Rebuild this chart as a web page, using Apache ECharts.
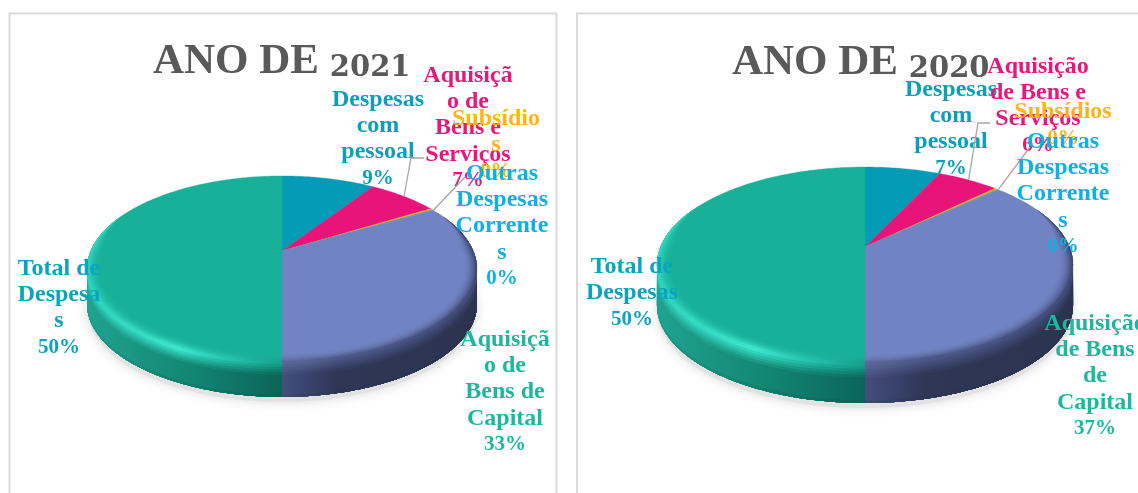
<!DOCTYPE html>
<html><head><meta charset="utf-8">
<style>html,body{margin:0;padding:0;background:#fff}#c{width:1138px;height:493px}</style>
<script src="https://cdn.jsdelivr.net/npm/echarts@6/dist/echarts.min.js"></script>
</head><body><div id="c"></div>
<script>
// ---- data ----
const years = ['2021', '2020'];
const categories = ['Despesas com pessoal', 'Aquisição de Bens e Serviços', 'Subsídios', 'Outras Despesas Correntes', 'Aquisição de Bens de Capital', 'Total de Despesas'];
const values2021 = [9.3, 7.0, 0.3, 0.1, 33.3, 50];
const values2020 = [7.0, 5.7, 0.3, 0.1, 36.9, 50];
const wrapped2021 = ['Despesas\ncom\npessoal', 'Aquisiçã\no de\nBens e\nServiços', 'Subsídio\ns', 'Outras\nDespesas\nCorrente\ns', 'Aquisiçã\no de\nBens de\nCapital', 'Total de\nDespesa\ns'];
const wrapped2020 = ['Despesas\ncom\npessoal', 'Aquisição\nde Bens e\nServiços', 'Subsídios', 'Outras\nDespesas\nCorrente\ns', 'Aquisição\nde Bens\nde\nCapital', 'Total de\nDespesas'];

// ---- style & layout ----
const faceColors = ['#049bb6', '#e8147a', '#f6a81e', '#10a5d8', '#7183c2', '#19b09a'];
const labelColors = ['#0b9fba', '#e8177b', '#fdb515', '#0fb0e2', '#1db79e', '#0ba4c0'];
const FONT = '"Liberation Serif", serif';
const geo = [
  {cx: 282, cy: 251, R: 191.3, S: 89.5, k: -0.193, depth: 35, titleX: 153, titleY: 33,
   labels: [[378, 139], [468, 128], [496, 145], [502, 226], [505, 392], [59, 308]],
   leaders: [[1, [[411, 158], [424, 158]]], [3, [[465, 177]]]]},
  {cx: 865, cy: 247, R: 204.5, S: 94.7, k: -0.184, depth: 40, titleX: 732, titleY: 34,
   labels: [[951, 129], [1038, 106], [1063, 125], [1063, 194], [1095, 376], [632, 293]],
   leaders: [[1, [[978, 123], [990, 123]]], [3, [[1030, 147]]]]}
];
const TAU = Math.PI * 2;

function pt(g, frac, dz, scale) {
  const a = frac * TAU, s = scale === undefined ? 1 : scale;
  const x = Math.sin(a) * s, y = -Math.cos(a) * s, d = 1 + g.k * y;
  return [g.cx + g.R * x / d, g.cy + g.S * y / d + dz];
}
function arc(g, f0, f1, dz, scaleFn) {
  const n = Math.max(2, Math.ceil((f1 - f0) * 300)), out = [];
  for (let i = 0; i <= n; i++) {
    const f = f0 + (f1 - f0) * i / n;
    out.push(pt(g, f, dz, scaleFn ? scaleFn(f) : 1));
  }
  return out;
}
function mix(a, b, t) {
  const p = c => [1, 3, 5].map(i => parseInt(c.substr(i, 2), 16));
  const A = p(a), B = p(b);
  return '#' + A.map((v, i) => Math.round(v + (B[i] - v) * t).toString(16).padStart(2, '0')).join('');
}
function rows(values) {
  let acc = 0;
  return values.map((v, i) => { const r = [acc / 100, (acc + v) / 100, i, v]; acc += v; return r; });
}
// side-wall ramp: [x position 0..1 across the half, base colour, rim colour]
const ramps = {
  5: [[0, '#1fa391', '#2fd6bd'], [.25, '#1a9583', '#34dcc4'], [.47, '#148a76', '#3de6cd'], [.72, '#10786a', '#26c4ad'], [1, '#0b6557', '#16a08c']],
  4: [[0, '#454f7c', '#5a6799'], [.1, '#3b4570', '#55618f'], [.28, '#2f3757', '#4a5684'], [.7, '#2d3553', '#434e7c'], [1, '#2c334e', '#3d4770']]
};
function sideElements(g, f0, f1, idx) {
  const ramp = ramps[idx];
  if (!ramp) return [];
  const left = idx === 5, x0 = left ? g.cx - g.R * 1.02 : g.cx, x1 = left ? g.cx : g.cx + g.R * 1.02;
  const extreme = Math.acos(g.k) / TAU;                  // where the outline is widest
  const wf = left ? .5 : Math.max(f0, extreme), we = left ? Math.min(f1, 1 - extreme) : .5;
  const bf = left ? .5 : Math.max(f0, extreme - .1), be = left ? Math.min(f1, 1 - extreme + .1) : .5;
  const face = faceColors[idx], els = [];
  const grad = fn => ({type: 'linear', x: x0, y: 0, x2: x1, y2: 0, global: true,
    colorStops: ramp.map(s => ({offset: s[0], color: fn(s[1], s[2])}))});
  const edge = arc(g, bf, be, 0).reverse();
  const IN = 9, OUT = 14;
  for (let i = 1; i <= IN; i++) {           // soft bevel just inside the top face, tapering at its ends
    const p = (i - 1) / IN, w = Math.pow(i / IN, 2);
    const taper = f => Math.min(1, Math.min(left ? 1 : (f - bf) / .06, left ? (be - f) / .06 : 1));
    const scale = f => 1 - .065 * (1 - p) * Math.max(0, taper(f));
    els.push({type: 'polygon', shape: {points: arc(g, bf, be, 0, scale).concat(edge)},
      style: {fill: grad((b, r) => mix(face, r, w))}});
  }
  const floor = arc(g, wf, we, g.depth).reverse();
  for (let i = 0; i < OUT; i++) {           // the wall, painted from the top down
    const t = i / OUT, fade = Math.min(1, t / .34), dark = t > .9 ? (t - .9) / .1 * .35 : 0;
    els.push({type: 'polygon', shape: {points: arc(g, wf, we, g.depth * t).concat(floor)},
      style: {fill: grad((b, r) => mix(mix(r, b, fade), '#03302a', dark))}});
  }
  return els;
}

function sideRender(g) {
  return function (params, api) {
    return {type: 'group', children: sideElements(g, api.value(0), api.value(1), api.value(2))};
  };
}
function faceRender(g) {
  return function (params, api) {
    const f0 = api.value(0), f1 = api.value(1), idx = api.value(2);
    const children = [];
    if (params.dataIndex === 0) {
      children.push({type: 'polygon', shape: {points: arc(g, 0, 1, g.depth + 5)},
        style: {fill: '#e2e2e2', shadowBlur: 12, shadowColor: '#dcdcdc'}});
    }
    const c = faceColors[idx];
    children.push({type: 'polygon', shape: {points: [[g.cx, g.cy]].concat(arc(g, f0, f1, 0))},
      style: {fill: c, stroke: c, lineWidth: .4}});
    return {type: 'group', children};
  };
}
function labelRender(g, wrapped) {
  return function (params, api) {
    const f0 = api.value(0), f1 = api.value(1), idx = api.value(2), v = api.value(3);
    const children = [];
    g.leaders.forEach(l => {
      if (l[0] !== idx) return;
      const start = pt(g, (f0 + f1) / 2, 0, 1.005);
      children.push({type: 'polyline', shape: {points: [start].concat(l[1])},
        style: {stroke: '#a6a6a6', lineWidth: 1.3, fill: null}});
    });
    const tok = (size) => ({fontFamily: FONT, fontWeight: 'bold', fontSize: size, fill: labelColors[idx], lineHeight: 26.3});
    children.push({type: 'text', style: {
      text: '{n|' + wrapped[idx] + '}\n{p|' + Math.round(v) + '%}',
      x: g.labels[idx][0], y: g.labels[idx][1],
      fill: labelColors[idx], fontFamily: FONT, fontWeight: 'bold', fontSize: 24,
      lineHeight: 26.3, align: 'center', verticalAlign: 'middle',
      rich: {n: tok(24), p: tok(21)}}});
    return {type: 'group', children};
  };
}

const sets = [[values2021, wrapped2021], [values2020, wrapped2020]];
const series = [];
sets.forEach((s, i) => {
  const g = geo[i], data = rows(s[0]);
  const base = {type: 'custom', coordinateSystem: 'none', silent: true, animation: false, clip: false, data,
    encode: {}, dimensions: ['from', 'to', 'category', 'value']};
  series.push(Object.assign({}, base, {name: years[i] + ' face', z: 2, renderItem: faceRender(g)}));
  series.push(Object.assign({}, base, {name: years[i] + ' side', z: 3, renderItem: sideRender(g)}));
  series.push(Object.assign({}, base, {name: years[i] + ' labels', z: 4, renderItem: labelRender(g, s[1])}));
});

const chart = echarts.init(document.getElementById('c'), null, {renderer: 'canvas'});
chart.setOption({
  animation: false,
  backgroundColor: '#ffffff',
  title: years.map((y, i) => ({
    text: '{a|ANO DE} {b|' + y + '}',
    left: geo[i].titleX, top: geo[i].titleY, padding: 0, z: 3,
    textStyle: {
      fontFamily: FONT, fontWeight: 'bold', color: '#595959', fontSize: 43,
      rich: {
        a: {fontFamily: FONT, fontWeight: 'bold', color: '#595959', fontSize: 43, verticalAlign: 'bottom', lineHeight: 50},
        b: {fontFamily: '"DejaVu Serif", serif', fontWeight: 'bold', color: '#595959', fontSize: 29, verticalAlign: 'bottom', lineHeight: 50}
      }
    }
  })),
  graphic: [
    {type: 'rect', z: 0, shape: {x: 9.5, y: 13.5, width: 547, height: 520}, style: {fill: '#fff', stroke: '#d9d9d9', lineWidth: 2}},
    {type: 'rect', z: 0, shape: {x: 577, y: 13.5, width: 600, height: 520}, style: {fill: '#fff', stroke: '#d9d9d9', lineWidth: 2}}
  ],
  series
});
</script></body></html>
